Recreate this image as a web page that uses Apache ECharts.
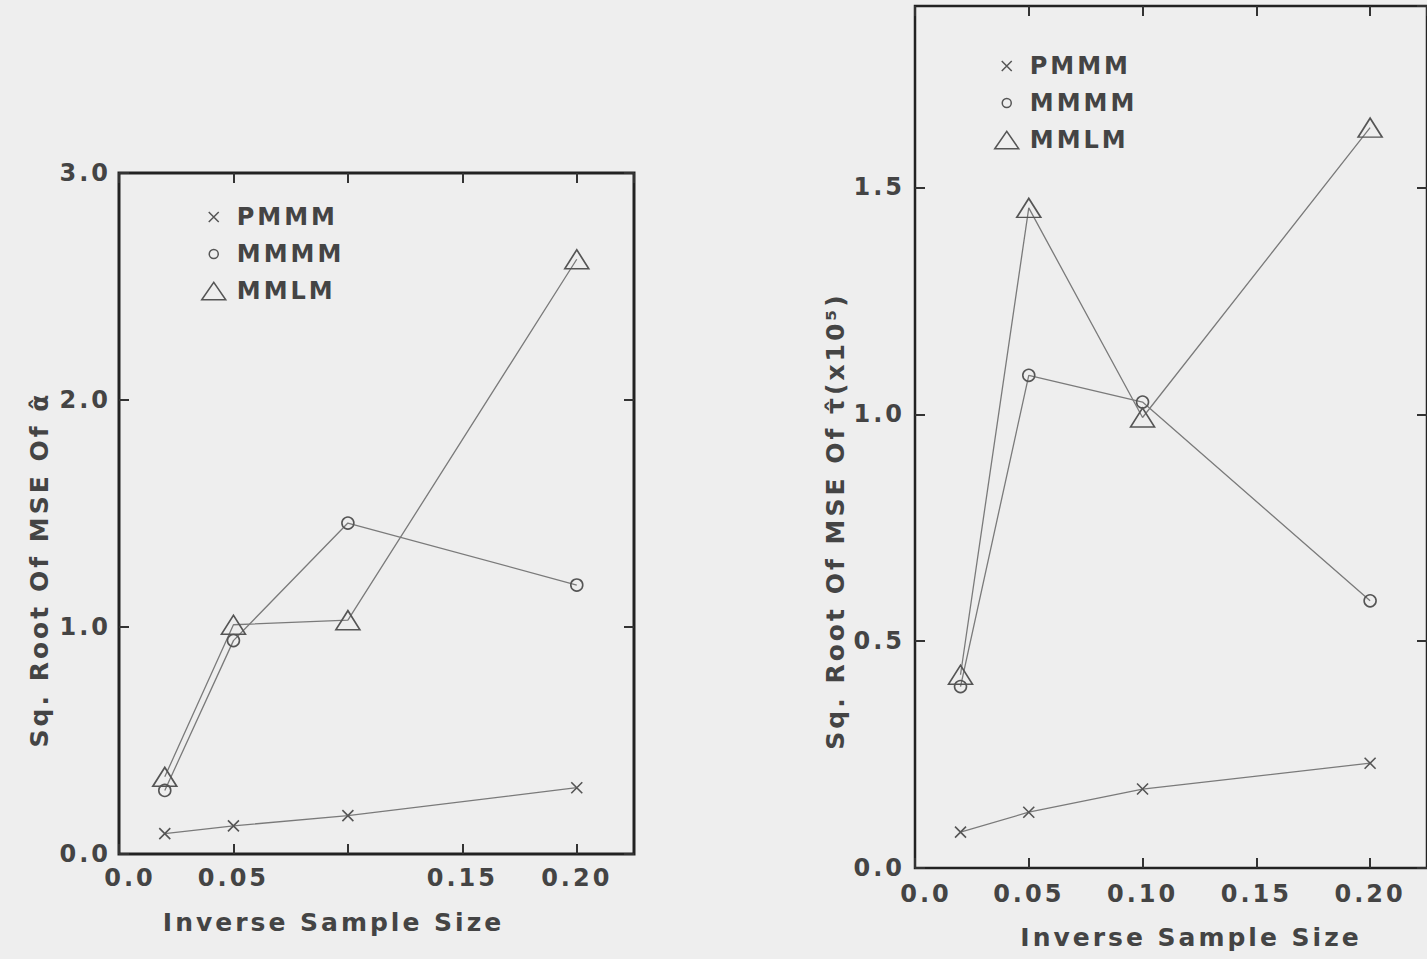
<!DOCTYPE html>
<html>
<head>
<meta charset="utf-8">
<script src="https://cdn.jsdelivr.net/npm/echarts@6/dist/echarts.min.js"></script>
<style>
  html, body { margin: 0; padding: 0; background: #eeeeee; }
  #chart { width: 1427px; height: 959px; }
  #chart svg text { letter-spacing: 3px; }
</style>
</head>
<body>
<div id="chart"></div>
<script>
// ---- data ----
const inverseSampleSize = [0.02, 0.05, 0.10, 0.20];
const seriesNames = ['PMMM', 'MMMM', 'MMLM'];

// Left panel: Sq. Root of MSE of alpha-hat
const alphaPMMM = [0.09, 0.124, 0.169, 0.292];
const alphaMMMM = [0.28, 0.94, 1.458, 1.185];
const alphaMMLM = [0.34, 1.01, 1.03, 2.62];

// Right panel: Sq. Root of MSE of tau-hat (x10^5)
const tauPMMM = [0.079, 0.123, 0.174, 0.231];
const tauMMMM = [0.40, 1.086, 1.027, 0.589];
const tauMMLM = [0.426, 1.455, 0.993, 1.632];

// tick labels
const leftXTickLabels  = ['0.0', '0.05', '', '0.15', '0.20'];
const rightXTickLabels = ['0.0', '0.05', '0.10', '0.15', '0.20'];
const leftYTickLabels  = ['0.0', '1.0', '2.0', '3.0'];
const rightYTickLabels = ['0.0', '0.5', '1.0', '1.5'];

// ---- styling ----
const FONT = 'DejaVu Sans';
const TXT = '#444444';
const MARK = '#555555';
const LINE = '#7a7a7a';

const xPath = 'path://M0,0L10,10M10,0L0,10';
const legendIcons = {
  PMMM: 'path://M0,0M24,18M7,4L17,14M17,4L7,14',
  MMMM: 'path://M0,0M24,18M7.5,9A4.5,4.5 0 1 1 16.5,9A4.5,4.5 0 1 1 7.5,9Z',
  MMLM: 'path://M1,17L12,1L23,17Z'
};
const symbolFor = { PMMM: xPath, MMMM: 'circle', MMLM: 'triangle' };
const sizeFor = { PMMM: 11, MMMM: 12, MMLM: [24, 19] };

function pairs(ys) { return inverseSampleSize.map((x, i) => [x, ys[i]]); }
function labelFmt(labels, step, shiftFirst) {
  return v => {
    const i = Math.round(v / step);
    const t = labels[i] !== undefined ? labels[i] : '';
    return (shiftFirst && i === 0 && t) ? '{first|' + t + '}' : t;
  };
}

const tickStyle = { show: true, inside: true, length: 10, lineStyle: { color: '#333', width: 2 } };
const labelStyle = { fontFamily: FONT, fontSize: 24, fontWeight: 'bold', color: TXT };
const nameStyle = { fontFamily: FONT, fontSize: 25, fontWeight: 'bold', color: TXT };
const hiddenLine = { show: false, onZero: false };

function mkX(gridIndex, labels, margin, nameGap, namePad) {
  return [{
    type: 'value', gridIndex, position: 'bottom', min: 0, max: 0.225, interval: 0.05,
    axisLine: hiddenLine, axisTick: tickStyle, splitLine: { show: false },
    axisLabel: Object.assign({
      margin, showMaxLabel: false, formatter: labelFmt(labels, 0.05, true),
      rich: { first: Object.assign({ padding: [0, 0, 0, 22] }, labelStyle) }
    }, labelStyle),
    name: 'Inverse Sample Size', nameLocation: 'middle', nameGap,
    nameTextStyle: Object.assign({ padding: namePad }, nameStyle)
  }, {
    type: 'value', gridIndex, position: 'top', min: 0, max: 0.225, interval: 0.05,
    axisLine: hiddenLine, axisTick: tickStyle, splitLine: { show: false },
    axisLabel: { show: false }
  }];
}
function mkY(gridIndex, max, interval, labels, name, nameGap, namePad, margin) {
  return [{
    type: 'value', gridIndex, position: 'left', min: 0, max, interval,
    axisLine: hiddenLine, axisTick: tickStyle, splitLine: { show: false },
    axisLabel: Object.assign({ margin, showMaxLabel: max % interval === 0, formatter: labelFmt(labels, interval, false) }, labelStyle),
    name, nameLocation: 'middle', nameGap, nameRotate: 90,
    nameTextStyle: Object.assign({ padding: namePad }, nameStyle)
  }, {
    type: 'value', gridIndex, position: 'right', min: 0, max, interval,
    axisLine: hiddenLine, axisTick: tickStyle, splitLine: { show: false },
    axisLabel: { show: false }
  }];
}

function mkSeries(name, ys, xAxisIndex, yAxisIndex) {
  return {
    type: 'line', name, data: pairs(ys), xAxisIndex, yAxisIndex,
    symbol: symbolFor[name], symbolSize: sizeFor[name], showSymbol: true,
    lineStyle: { color: LINE, width: 1.3 },
    itemStyle: { color: 'rgba(0,0,0,0)', borderColor: MARK, borderWidth: 1.6 },
    emphasis: { disabled: true }, animation: false, z: 3
  };
}

function mkLegend(left, top, itemGap) {
  return {
    orient: 'vertical', left, top, itemWidth: 24, itemHeight: 18, itemGap,
    selectedMode: false, symbolKeepAspect: true,
    textStyle: { fontFamily: FONT, fontSize: 24, fontWeight: 'bold', color: TXT, padding: [0, 0, 0, 6] },
    data: seriesNames.map(n => ({
      name: n, icon: legendIcons[n],
      itemStyle: { color: 'rgba(0,0,0,0)', borderColor: MARK, borderWidth: 1.5 }
    }))
  };
}

const chart = echarts.init(document.getElementById('chart'), null, { renderer: 'svg', width: 1427, height: 959 });
chart.setOption({
  backgroundColor: '#eeeeee',
  animation: false,
  grid: [
    { left: 119, top: 173, width: 515, height: 681, show: true, borderColor: '#222', borderWidth: 3, backgroundColor: 'transparent' },
    { left: 915, top: 6, width: 512, height: 862, show: true, borderColor: '#222', borderWidth: 2.5, backgroundColor: 'transparent' }
  ],
  xAxis: [].concat(
    mkX(0, leftXTickLabels, 12, 56, [0, 86, 0, 0]),
    mkX(1, rightXTickLabels, 14, 57, [0, 0, 0, 40])
  ),
  yAxis: [].concat(
    mkY(0, 3, 1, leftYTickLabels, 'Sq. Root Of MSE Of \u03b1\u0302', 67, [0, 112, 0, 0], 8),
    mkY(1, 1.9, 0.5, rightYTickLabels, 'Sq. Root Of MSE Of \u03c4\u0302(x10\u2075)', 67, [0, 168, 0, 0], 10)
  ),
  legend: [mkLegend(196, 200, 13), mkLegend(989, 49, 13)],
  series: [
    mkSeries('PMMM', alphaPMMM, 0, 0),
    mkSeries('MMMM', alphaMMMM, 0, 0),
    mkSeries('MMLM', alphaMMLM, 0, 0),
    mkSeries('PMMM', tauPMMM, 2, 2),
    mkSeries('MMMM', tauMMMM, 2, 2),
    mkSeries('MMLM', tauMMLM, 2, 2)
  ]
});
</script>
</body>
</html>
